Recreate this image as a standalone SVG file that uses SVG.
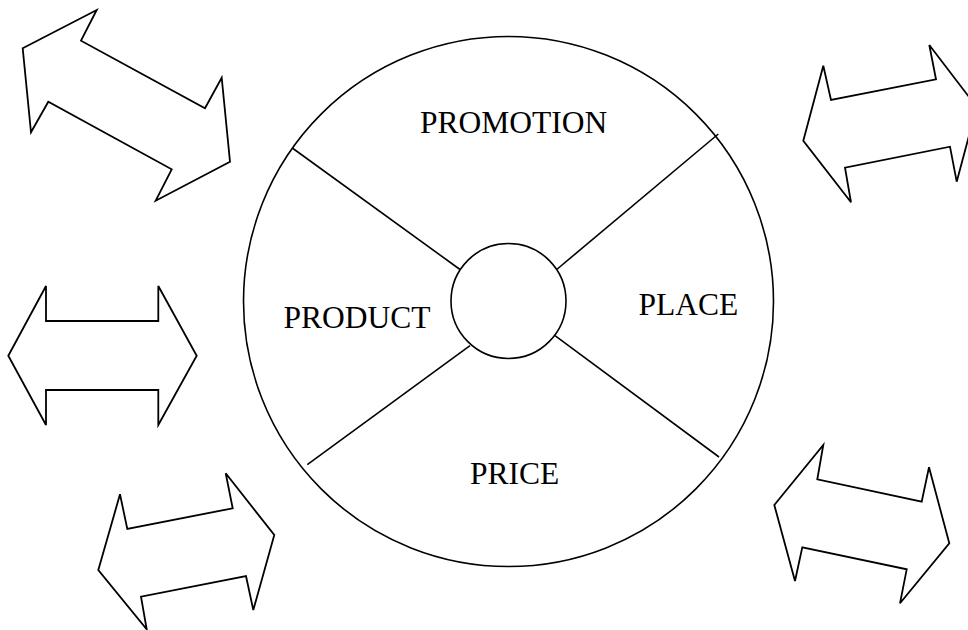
<svg xmlns="http://www.w3.org/2000/svg" width="968" height="630" viewBox="0 0 968 630">
<style>
.arrow{fill:#fff;stroke:#000;stroke-width:1.8;stroke-linejoin:miter}
.ring{fill:none;stroke:#000;stroke-width:1.6}
.hub{fill:#fff;stroke:#000;stroke-width:1.6}
.div{stroke:#000;stroke-width:1.6}
.lbl{font-family:"Liberation Serif","Times New Roman",serif;font-size:31.5px;fill:#000}
</style>
<rect width="968" height="630" fill="#fff"/>
<g id="arrow-top-left"><polygon class="arrow" points="22.7,48.3 96.7,10 81,40.7 205,108.3 221.7,77.7 230,161.7 155.7,200.7 171.7,169.3 48.3,101.7 31,132.3"/></g>
<g id="arrow-mid-left"><polygon class="arrow" points="8.3,355.7 46,286 46,321 158.3,321 158.3,286 196.7,355.7 158.3,425 158.3,390 46,390 46,425"/></g>
<g id="arrow-bottom-left"><polygon class="arrow" points="98.3,570 120,494.3 127.3,529 232.7,508.3 225.7,473.3 274.3,535 253.3,610 246,576 141,596.7 146.7,629.3"/></g>
<g id="arrow-top-right"><polygon class="arrow" points="803.3,140.7 823.3,65.7 831,100 936,79.3 929.3,45 976.7,107 956.7,181.7 950,146.7 845,167.7 851,202.3"/></g>
<g id="arrow-bottom-right"><polygon class="arrow" points="774.3,505 823.3,445 817.3,479.3 921.7,501.7 929,467.3 949.3,543.3 900,603.3 906.7,569.3 802.3,547.3 795,581"/></g>
<g id="wheel"><circle class="ring" cx="508.5" cy="301.5" r="265"/></g>
<g id="connectors">
<line class="div" x1="292.3" y1="148" x2="460" y2="269.5"/>
<line class="div" x1="718.3" y1="134" x2="556.7" y2="269.5"/>
<line class="div" x1="307.3" y1="464.7" x2="470" y2="345.7"/>
<line class="div" x1="555" y1="335.6" x2="719" y2="457"/>
</g>
<g id="hub"><circle class="hub" cx="508.5" cy="301" r="57.5"/></g>
<g id="promotion"><text class="lbl" x="420" y="133">PROMOTION</text></g>
<g id="product"><text class="lbl" x="283.5" y="327.5">PRODUCT</text></g>
<g id="place"><text class="lbl" x="638.5" y="314.5">PLACE</text></g>
<g id="price"><text class="lbl" x="470" y="484">PRICE</text></g>
</svg>
